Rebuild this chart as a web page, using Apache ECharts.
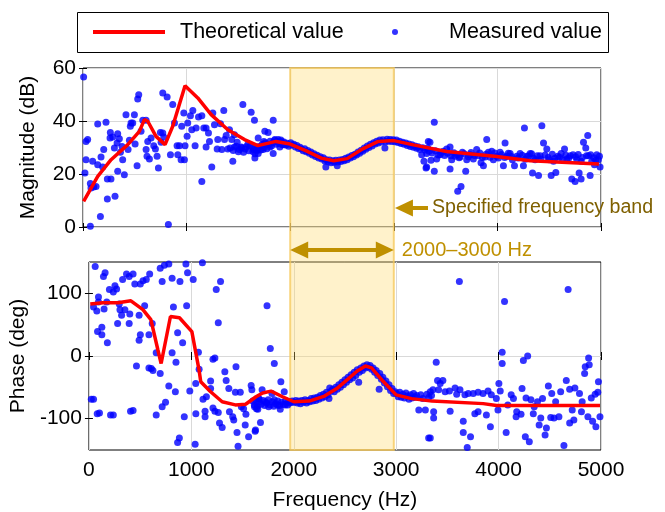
<!DOCTYPE html>
<html>
<head>
<meta charset="utf-8">
<script src="https://cdn.jsdelivr.net/npm/echarts@6/dist/echarts.min.js"></script>
<style>
  html, body { margin: 0; padding: 0; background: #fff; }
  #chart { width: 665px; height: 512px; }
</style>
</head>
<body>
<div id="chart"></div>
<script>
// Theoretical frequency response (magnitude in dB, phase in degrees)
const magTheoryFreq = [6, 142, 271, 432, 544, 593, 625, 705, 792, 866, 985, 1108, 1237, 1398, 1559, 1688, 1862, 2000, 2150, 2300, 2420, 2550, 2700, 2850, 3000, 3190, 3510, 3994, 4316, 4980];
const magTheoryDb   = [9.7, 19.1, 25.4, 31.1, 36.1, 40.5, 39.9, 34.2, 31.1, 38, 53.3, 48.7, 42.4, 36.7, 33, 30.7, 32.3, 31.3, 28.8, 26, 25, 25.8, 29.5, 32.3, 32.6, 31, 28.5, 26.6, 25, 23.8];

const phaseTheoryFreq = [13, 137, 283, 410, 527, 605, 673, 705, 796, 884, 1005, 1076, 1092, 1188, 1301, 1430, 1530, 1631, 1696, 1778, 1891, 2000, 2150, 2300, 2420, 2520, 2620, 2700, 2760, 2870, 3000, 3150, 3350, 3850, 3980, 4990];
const phaseTheoryDeg  = [83, 85, 85, 88, 74, 58, 10, -12, 63, 61, 39, -23, -41, -57, -73, -78, -77, -65, -59, -56, -65, -73, -72, -64, -52, -38, -24, -16, -19, -40, -62, -68, -72, -76, -79, -79];

// Measured magnitude [Hz, dB]
const magMeasured = [
  [6,56.6],[19,20.4],[71,0.3],[29,25.4],[45,33],[29,32.3],[77,14.7],[103,15.1],[126,15.3],[71,16.4],[168,4],[142,38.9],[222,39.5],[93,24.8],[142,23.5],[190,22.6],[200,29.2],[174,26.4],[235,18.1],[270,18.1],[235,10.6],[309,11.6],[264,35.7],[261,33.6],[287,34],[335,35.2],[351,33.3],[329,31.7],[303,29.8],[361,28.2],[377,30.4],[335,21],[399,19.7],[415,42.4],[457,38],[464,39.2],[448,32.7],[435,29.2],[383,25.4],[496,42.4],[480,39.2],[503,31.3],[522,23.1],[528,48.3],[538,49.9],[577,40.3],[609,40.3],[560,36.1],[625,32.3],[609,29.2],[618,26.7],[641,25.7],[657,33.6],[683,30.7],[699,29.4],[715,26.7],[728,22.3],[747,35.7],[770,35.5],[779,34],[770,50.6],[812,49.1],[754,32],[824,0.9],[866,46.2],[844,27.3],[883,39.2],[908,30.7],[915,27.3],[947,25.4],[979,25.4],[931,30.7],[953,38],[985,30.7],[973,43],[1011,39.2],[1005,34.2],[1037,42],[1060,44],[1050,36.7],[1092,37.4],[1082,30.7],[1115,41.5],[1147,42],[1147,17.2],[1166,37.4],[1188,37.4],[1188,30.2],[1211,35.5],[1221,32.3],[1243,22.6],[1253,43],[1269,38.6],[1301,33],[1295,29.4],[1327,39],[1359,44],[1340,29.2],[1366,33],[1382,34.5],[1398,29.4],[1414,36.7],[1436,33],[1446,24.8],[1462,34.8],[1462,30.2],[1488,32],[1510,29.2],[1526,30.2],[1543,46.2],[1565,29.4],[1591,31.1],[1623,43.3],[1655,40.3],[1649,29.2],[1681,29.4],
  [1420,29.8],[1450,28.9],[1480,30.5],[1500,28.4],[1530,29.9],[1550,28.2],[1575,30.3],[1600,28.8],[1615,30.6],[1640,28.5],[1660,27.6],[1680,28.9],
  [1836,40.3],[1755,36.1],[1787,35.7],[1691,33.6],[1746,32.3],[1771,31.1],[1642,29.8],[1675,29.2],[1691,27.7],[1659,26],[1739,29.2],[1804,30.2],[1836,27.7],[1852,33],[1884,33],[1916,32.3],[1932,31.1],[1965,31.1],[1900,30.2],
  [1700,30.4],[1715,29.1],[1730,31.2],[1745,30.0],[1760,31.8],[1775,29.5],[1790,31.0],[1805,32.4],[1820,30.6],[1835,31.9],[1850,32.6],[1865,31.2],[1880,32.3],[1895,31.5],[1910,32.8],[1925,31.0],[1940,32.1],[1955,30.9],[1970,31.6],[1985,30.5],
  [2005,31.8],[2020,30.9],[2035,31.2],[2050,30.2],[2065,30.8],[2080,29.6],[2095,30.1],[2110,29.4],[2125,28.8],[2140,29.5],[2155,28.4],[2170,28.9],[2185,27.8],[2200,28.3],[2215,27.2],[2230,27.6],[2245,26.6],[2260,27.1],[2275,26.0],[2290,26.5],[2305,25.7],[2320,26.1],[2335,24.9],[2344,22.6],[2350,25.4],[2365,24.6],[2380,25.3],[2395,24.2],[2410,25.0],[2425,24.4],[2440,25.2],[2454,23.1],[2460,24.5],[2475,25.3],[2490,24.7],[2505,25.5],[2520,25.0],[2535,25.9],[2550,25.4],[2565,26.4],[2580,26.0],[2595,27.0],[2610,26.5],[2625,27.5],[2640,27.2],[2655,28.3],[2670,27.8],[2685,29.0],[2700,28.6],[2715,29.8],[2730,29.3],[2745,30.6],[2760,30.0],[2775,31.2],[2790,30.6],[2805,31.8],[2820,31.3],[2835,32.4],[2850,31.7],[2865,32.8],[2880,32.1],[2895,32.9],[2914,29.8],[2920,32.2],[2935,33.1],[2950,32.4],[2965,33.0],[2980,32.3],[2995,32.9],
  [3010,32.2],[3025,32.8],[3040,31.9],[3055,32.4],[3070,31.5],[3085,32.0],[3100,31.2],[3115,31.7],[3130,30.8],[3145,31.3],[3160,30.4],[3175,31.0],[3190,30.1],[3205,30.6],[3220,29.7],[3235,30.3],[3250,29.2],[3269,27.3],[3291,24.8],[3311,22.3],[3333,32.3],[3280,29.9],[3300,29.1],
  [3391,39.5],[3349,32],[3327,29.8],[3317,27.7],[3317,22.6],[3391,21],[3359,25.2],[3414,25.7],[3446,27.3],[3478,28.6],[3510,29.4],[3543,30.2],[3543,21.9],[3559,25.4],[3591,26.7],[3617,13.5],[3649,15.3],[3639,26.4],[3662,28.2],[3694,21],[3704,25.4],[3736,27.3],[3768,25.7],[3800,29.2],[3817,26.9],[3842,24.2],[3865,23.1],[3881,26.4],[3897,33],[3913,28.2],[3945,28.6],[3961,25.4],[3994,26.7],[4026,28.2],[4058,23.1],[4074,31.7],[4090,26.7],[4123,27.7],[4145,25.4],[4165,23.1],[4187,26.7],[4219,27.7],[4251,23.1],[4261,37.4],[4284,26.7],[4316,27.7],[4339,20.4],[4364,25.4],[4397,19.4],[4412,26.9],[4429,38.2],[4445,31.7],[4477,29.4],[4500,25.4],[4519,19.4],[4541,24.8],[4564,20.6],[4583,26.7],[4615,27.7],[4648,29.4],[4670,25.7],[4702,26.9],[4718,18.1],[4750,17.2],[4766,25.4],[4789,20.4],[4808,18.1],[4808,24.8],[4831,32],[4853,29.8],[4872,34.5],[4879,26.9],[4895,19.4],[4911,24.8],[4937,23.5],[4959,27.3],[4975,25.4],[4991,22.6],
  [3340,28.6],[3370,27.9],[3400,28.8],[3430,27.2],[3460,28.1],[3490,27.0],[3520,27.8],[3550,26.9],[3580,28.0],[3610,27.3],[3630,26.1],[3680,27.6],[3720,26.5],[3745,28.1],[3780,27.0],[3830,27.9],[3855,26.2],[3890,27.5],[3930,26.3],[3975,27.9],[4010,26.0],[4040,27.4],[4070,26.2],[4105,27.8],[4135,26.6],[4200,26.0],[4240,27.1],[4270,25.6],[4300,26.8],[4330,27.6],[4350,25.9],[4385,26.9],[4420,25.7],[4460,27.2],[4490,26.2],[4530,27.5],[4555,25.9],[4600,26.3],[4630,25.4],[4660,27.1],[4690,26.0],[4730,27.3],[4755,26.5],[4780,27.4],[4820,26.2],[4860,26.9],[4900,27.3],[4930,26.1],[4950,25.2],[4985,26.7]
];

// Measured phase [Hz, deg]
const phaseMeasured = [
  [23,-69],[81,-92],[211,-94],[406,-88],
  [61,143],[158,133],[142,127],[200,106],[254,112],[238,102],[270,107],[329,122],[367,131],[431,131],[393,127],[448,115],[502,115],[528,120],[560,122],[593,131],[696,140],[737,145],[780,147],[715,119],[812,124],[889,119],[947,147],[963,133],[1018,122],[1108,149],[1285,119],[1243,106],
  [93,94],[93,86],[45,78],[77,72],[148,75],[174,86],[296,83],[303,74],[351,74],[319,65],[399,67],[280,52],[393,52],[490,65],[544,80],[126,46],[84,39],[126,34],[180,21],[502,34],[490,25],[586,34],[618,52],[657,5],[609,-20],[625,-23],[696,-28],[464,-16],[586,-19],[812,5],[850,-10],[825,78],[954,80],[866,37],[915,21],[1263,53],[1211,-5],[1230,-3],[1069,6],[1076,-21],[1043,-44],[780,-48],[844,-57],[985,-56],[748,-74],[715,-81],[657,-94],[431,-87],[238,-94],[103,-91],[45,-69],[931,-97],[1044,-92],[883,-131],[866,-138],[1037,-141],[1114,-69],[1147,-65],[1134,-88],[1134,-97],[1188,-40],[1188,-52],[1211,-83],[1230,-88],[1263,-90],[1275,-107],[1301,-114],[1327,-25],[1340,-39],[1366,-52],[1372,-89],[1404,-97],[1414,-102],[1436,-17],[1430,-58],[1446,-122],[1456,-144],[1478,-58],[1488,-81],[1510,-84],[1526,-110],[1533,-93],[1559,-129],[1584,-47],[1591,-54],[1617,-81],[1623,-120],[1649,-85],[1662,-69],
  [1739,80],[1771,12],[1810,-12],[1874,-41],[1907,-57],[1675,-106],[1626,-118],[1636,-84],[1659,-68],[1691,-54],[1723,-73],[1755,-81],[1787,-60],[1810,-70],[1842,-78],[1868,-85],[1916,-78],[1948,-73],[1981,-74],
  [1600,-72],[1615,-78],[1630,-70],[1645,-80],[1660,-74],[1680,-77],[1700,-71],[1715,-79],[1735,-75],[1750,-70],[1770,-78],[1790,-73],[1805,-80],[1825,-76],[1845,-72],[1860,-79],[1880,-74],[1900,-77],[1920,-71],[1940,-78],[1960,-75],[1985,-72],
  [2005,-74],[2020,-71],[2035,-75],[2050,-72],[2065,-76],[2080,-71],[2095,-74],[2110,-70],[2125,-75],[2140,-71],[2155,-73],[2170,-68],[2185,-72],[2200,-67],[2215,-71],[2230,-66],[2245,-69],[2260,-63],[2275,-67],[2290,-61],[2305,-65],[2320,-58],[2335,-62],[2344,-68],[2351,-51],[2365,-56],[2380,-53],[2395,-57],[2410,-50],[2425,-53],[2440,-46],[2455,-50],[2470,-42],[2485,-46],[2500,-38],[2515,-42],[2530,-34],[2545,-38],[2560,-30],[2575,-35],[2590,-26],[2605,-31],[2620,-22],[2634,-42],[2640,-26],[2655,-19],[2670,-23],[2685,-16],[2700,-19],[2715,-14],[2730,-18],[2745,-15],[2760,-21],[2775,-19],[2790,-26],[2805,-23],[2820,-31],[2834,-53],[2840,-28],[2855,-37],[2870,-34],[2885,-43],[2900,-40],[2915,-49],[2930,-46],[2945,-55],[2960,-52],[2975,-60],[2990,-57],
  [3005,-60],[3020,-65],[3035,-58],[3050,-66],[3065,-61],[3080,-67],[3095,-59],[3110,-64],[3125,-69],[3140,-62],[3155,-67],[3170,-60],[3185,-66],[3200,-63],[3221,-86],[3240,-62],[3260,-68],[3285,-86],[3300,-61],[3317,-131],[3320,-66],[3345,-63],
  [3617,119],[4679,106],[4058,87],[4035,6],[4035,-12],[4284,0],[4242,-7],[3391,-10],[4879,-3],[4885,-14],[4846,-17],[4840,-28],[4975,-41],[3404,-39],[3456,-39],[3430,-44],[3333,-57],[3359,-54],[3414,-54],[3478,-57],[3520,-56],[3575,-51],[3623,-54],[3591,-61],[3671,-62],[3704,-60],[3752,-60],[3800,-58],[3848,-60],[3897,-56],[3929,-62],[3978,-68],[4003,-44],[4016,-56],[4090,-78],[4123,-62],[4145,-68],[4177,-89],[4229,-52],[4268,-67],[4316,-70],[4348,-81],[4380,-73],[4429,-68],[4486,-48],[4519,-60],[4557,-73],[4606,-57],[4661,-39],[4694,-53],[4745,-51],[4790,-60],[4816,-73],[4905,-67],[4943,-61],[4969,-58],[4990,-97],[4950,-113],[4918,-104],[4872,-97],[4809,-89],[4719,-86],[4735,-102],[4694,-107],[4638,-143],[4589,-97],[4541,-99],[4509,-98],[4467,-115],[4454,-126],[4412,-99],[4396,-110],[4339,-92],[4300,-137],[4261,-129],[4219,-93],[4171,-97],[4074,-122],[3994,-86],[3920,-113],[3881,-94],[3800,-89],[3768,-92],[3726,-129],[3694,-146],[3655,-122],[3655,-104],[3527,-88],[3366,-99],[3333,-131],[3366,-89]
];

// Highlighted band and axis ticks
const bandRange = [2000, 3000];
const freqTicks = [0, 1000, 2000, 3000, 4000, 5000];
const magTicks = [0, 20, 40, 60];
const phaseTicks = [-100, 0, 100];

const zip = (xs, ys) => xs.map((x, i) => [x, ys[i]]);

const FONT = '"Liberation Sans", Arial, sans-serif';
const GOLD = '#BF9000';
const GRID_GRAY = '#D9D9D9';

const tickStyle = { show: true, inside: true, length: 4, lineStyle: { color: '#000', width: 1 } };
const labelStyle = { color: '#000', fontSize: 21, fontFamily: FONT };

function freqAxis(gridIndex, position, showLabels) {
  return {
    type: 'value', gridIndex, position, min: freqTicks[0], max: freqTicks[freqTicks.length - 1], interval: 1000,
    axisLine: { show: false },
    axisTick: tickStyle,
    axisLabel: Object.assign({ show: showLabels, margin: 10, formatter: v => String(v) }, labelStyle),
    splitLine: { show: position === 'bottom', lineStyle: { color: GRID_GRAY, width: 1 } }
  };
}

const legendText = { color: '#000', fontSize: 21.5, fontFamily: FONT };

const chart = echarts.init(document.getElementById('chart'), null, { renderer: 'canvas' });

const option = {
  animation: false,
  backgroundColor: '#fff',
  textStyle: { fontFamily: FONT },
  // legend frame
  graphic: [{
    type: 'rect', left: 77, top: 12, z: 0,
    shape: { width: 531, height: 40 },
    style: { fill: '#fff', stroke: '#000', lineWidth: 1 }
  }],
  legend: [
    {
      left: 93, top: 21, padding: 0,
      itemWidth: 72, itemHeight: 6, selectedMode: false,
      textStyle: Object.assign({ padding: [0, 0, 0, 10] }, legendText),
      data: [{ name: 'Theoretical value', icon: 'path://M0,0H72V4H0Z', itemStyle: { color: '#FF0000' } }]
    },
    {
      left: 392, top: 21, padding: 0,
      itemWidth: 6, itemHeight: 6, selectedMode: false,
      textStyle: Object.assign({ padding: [0, 0, 0, 46] }, legendText),
      data: [{ name: 'Measured value', icon: 'circle' }]
    }
  ],
  grid: [
    { left: 83, right: 64, top: 68, height: 159, show: true, borderColor: '#000', borderWidth: 1, backgroundColor: 'transparent' },
    { left: 83, right: 64, top: 262, height: 188, show: true, borderColor: '#000', borderWidth: 1, backgroundColor: 'transparent' },
    { left: 83, right: 64, top: 68, height: 382, show: false }
  ],
  xAxis: [
    freqAxis(0, 'bottom', false),
    Object.assign(freqAxis(1, 'bottom', true), {
      name: 'Frequency (Hz)', nameLocation: 'middle', nameGap: 40,
      nameTextStyle: { color: '#000', fontSize: 21, fontFamily: FONT }
    }),
    { type: 'value', gridIndex: 2, min: 0, max: 5000, show: false },
    freqAxis(0, 'top', false),
    freqAxis(1, 'top', false)
  ],
  yAxis: [
    {
      type: 'value', gridIndex: 0, position: 'left', min: magTicks[0], max: magTicks[magTicks.length - 1], interval: 20,
      name: 'Magnitude (dB)', nameLocation: 'middle', nameGap: 44,
      nameTextStyle: { color: '#000', fontSize: 21, fontFamily: FONT },
      axisLine: { show: false }, axisTick: tickStyle,
      axisLabel: Object.assign({ margin: 7 }, labelStyle),
      splitLine: { show: true, lineStyle: { color: GRID_GRAY, width: 1 } }
    },
    {
      type: 'value', gridIndex: 1, position: 'left', min: -150, max: 150, interval: 50,
      name: 'Phase (deg)', nameLocation: 'middle', nameGap: 44,
      nameTextStyle: { color: '#000', fontSize: 21, fontFamily: FONT },
      axisLine: { show: false },
      axisTick: Object.assign({ customValues: phaseTicks }, tickStyle),
      axisLabel: Object.assign({ margin: 7, customValues: phaseTicks,
        formatter: v => (phaseTicks.indexOf(v) >= 0 ? String(v) : '') }, labelStyle),
      // only every second line (the ±100 and 0 levels) is drawn
      splitLine: { show: true, lineStyle: { color: ['rgba(0,0,0,0)', GRID_GRAY], width: 1 } }
    },
    { type: 'value', gridIndex: 2, min: 0, max: 382, inverse: true, show: false },
    {
      type: 'value', gridIndex: 0, position: 'right', min: magTicks[0], max: magTicks[magTicks.length - 1], interval: 20,
      axisLine: { show: false }, axisTick: tickStyle, axisLabel: { show: false }, splitLine: { show: false }
    },
    {
      type: 'value', gridIndex: 1, position: 'right', min: -150, max: 150, interval: 50,
      axisLine: { show: false }, axisTick: Object.assign({ customValues: phaseTicks }, tickStyle),
      axisLabel: { show: false }, splitLine: { show: false }
    }
  ],
  series: [
    {
      // shaded frequency band with its annotations
      type: 'line', xAxisIndex: 2, yAxisIndex: 2, data: [], silent: true, z: 1,
      markArea: {
        silent: true,
        itemStyle: { color: 'rgba(255,217,102,0.34)', borderColor: 'rgba(245,200,90,0.75)', borderWidth: 2 },
        data: [[{ xAxis: bandRange[0] }, { xAxis: bandRange[1] }]]
      },
      markLine: {
        silent: true,
        animation: false,
        lineStyle: { color: GOLD, width: 4, type: 'solid' },
        symbolSize: [17, 18],
        data: [
          [
            { coord: [3330, 140], symbol: 'none',
              label: { show: true, position: 'start', distance: 4, formatter: 'Specified frequency band',
                color: '#7F6000', fontSize: 19.6, fontFamily: FONT } },
            { coord: [3098, 140], symbol: 'triangle' }
          ],
          [
            { coord: [2087, 182], symbol: 'triangle' },
            { coord: [2913, 182], symbol: 'triangle',
              label: { show: true, position: 'end', distance: 17, formatter: '2000\u20133000 Hz',
                color: GOLD, fontSize: 20, fontFamily: FONT } }
          ]
        ]
      }
    },
    {
      name: 'Measured value', type: 'scatter', xAxisIndex: 0, yAxisIndex: 0,
      data: magMeasured, symbol: 'circle', symbolSize: 7, z: 3,
      itemStyle: { color: '#0000FF' }
    },
    {
      name: 'Theoretical value', type: 'line', xAxisIndex: 0, yAxisIndex: 0,
      data: zip(magTheoryFreq, magTheoryDb), symbol: 'none', z: 4,
      lineStyle: { color: '#FF0000', width: 3.5 }, itemStyle: { color: '#FF0000' }
    },
    {
      name: 'Measured value', type: 'scatter', xAxisIndex: 1, yAxisIndex: 1,
      data: phaseMeasured, symbol: 'circle', symbolSize: 7, z: 3,
      itemStyle: { color: '#0000FF' }
    },
    {
      name: 'Theoretical value', type: 'line', xAxisIndex: 1, yAxisIndex: 1,
      data: zip(phaseTheoryFreq, phaseTheoryDeg), symbol: 'none', z: 4,
      lineStyle: { color: '#FF0000', width: 3.5 }, itemStyle: { color: '#FF0000' }
    }
  ]
};

chart.setOption(option);
</script>
</body>
</html>
